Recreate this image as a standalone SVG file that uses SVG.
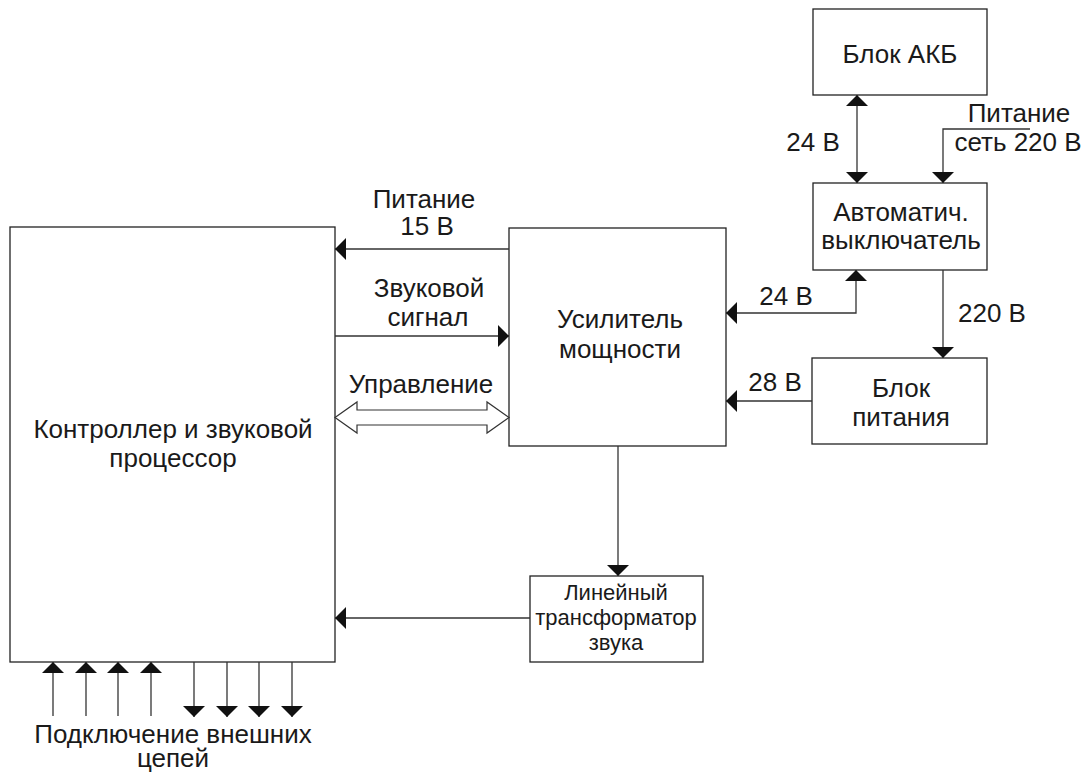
<svg xmlns="http://www.w3.org/2000/svg" width="1089" height="776" viewBox="0 0 1089 776">
<style>
.box{fill:#fff;stroke:#222;stroke-width:1.3}
.ln{fill:none;stroke:#333;stroke-width:1.3}
.t{font-family:"Liberation Sans",Arial,sans-serif;font-size:26px;fill:#1a1a1a;text-anchor:middle}
.s{font-size:22px}
.ah{fill:#111}
</style>
<defs>
<marker id="a" viewBox="0 0 11 22" refX="11" refY="11" markerWidth="11" markerHeight="22" markerUnits="userSpaceOnUse" orient="auto-start-reverse">
<path d="M0,0 L11,11 L0,22 Z" class="ah"/>
</marker>
</defs>
<rect width="1089" height="776" fill="#fff"/>
<g id="controller"><rect class="box" x="10" y="227" width="325" height="435"/>
<text class="t" x="173" y="438">Контроллер и звуковой</text><text class="t" x="173" y="467">процессор</text></g>
<g id="amplifier"><rect class="box" x="509" y="228" width="217" height="218"/>
<text class="t" x="620" y="328">Усилитель</text><text class="t" x="620" y="358">мощности</text></g>
<g id="akb"><rect class="box" x="813" y="9" width="174" height="86"/>
<text class="t" x="900" y="63">Блок АКБ</text></g>
<g id="breaker"><rect class="box" x="813" y="183" width="174" height="87"/>
<text class="t" x="901" y="221">Автоматич.</text><text class="t" x="901" y="249">выключатель</text></g>
<g id="psu"><rect class="box" x="812" y="358" width="175" height="86"/>
<text class="t" x="901" y="397">Блок</text><text class="t" x="901" y="426">питания</text></g>
<g id="transformer"><rect class="box" x="530" y="576" width="173" height="86"/>
<text class="t s" x="616" y="600">Линейный</text><text class="t s" x="616" y="625">трансформатор</text><text class="t s" x="616" y="650">звука</text></g>
<g id="connectors">
<path class="ln" d="M509,249 H335" marker-end="url(#a)"/>
<path class="ln" d="M335,336 H509" marker-end="url(#a)"/>
<path d="M335,417.5 L357,402 V410 H487 V402 L509,417.5 L487,433 V425 H357 V433 Z" fill="#fff" stroke="#333" stroke-width="1.2"/>
<path class="ln" d="M857,95 V183" marker-start="url(#a)" marker-end="url(#a)"/>
<path class="ln" d="M1030,129 H943 V183" marker-end="url(#a)"/>
<path class="ln" d="M856,270 V313 H726" marker-start="url(#a)" marker-end="url(#a)"/>
<path class="ln" d="M943,270 V358" marker-end="url(#a)"/>
<path class="ln" d="M812,401 H726" marker-end="url(#a)"/>
<path class="ln" d="M618,446 V576" marker-end="url(#a)"/>
<path class="ln" d="M530,618 H335" marker-end="url(#a)"/>
<path class="ln" d="M53,716 V662" marker-end="url(#a)"/>
<path class="ln" d="M86,716 V662" marker-end="url(#a)"/>
<path class="ln" d="M118,716 V662" marker-end="url(#a)"/>
<path class="ln" d="M151,716 V662" marker-end="url(#a)"/>
<path class="ln" d="M194,662 V717" marker-end="url(#a)"/>
<path class="ln" d="M227,662 V717" marker-end="url(#a)"/>
<path class="ln" d="M259,662 V717" marker-end="url(#a)"/>
<path class="ln" d="M292,662 V717" marker-end="url(#a)"/>
</g>
<g id="labels">
<text class="t" x="424" y="208">Питание</text><text class="t" x="427" y="235">15 В</text>
<text class="t" x="429" y="297">Звуковой</text><text class="t" x="428" y="326">сигнал</text>
<text class="t" x="421" y="393">Управление</text>
<text class="t" x="813" y="151">24 В</text>
<text class="t" x="1019" y="122">Питание</text><text class="t" x="1018" y="151">сеть 220 В</text>
<text class="t" x="786" y="305">24 В</text>
<text class="t" x="992" y="322">220 В</text>
<text class="t" x="775" y="391">28 В</text>
<text class="t" x="173" y="743">Подключение внешних</text><text class="t" x="173" y="767">цепей</text>
</g>
</svg>
